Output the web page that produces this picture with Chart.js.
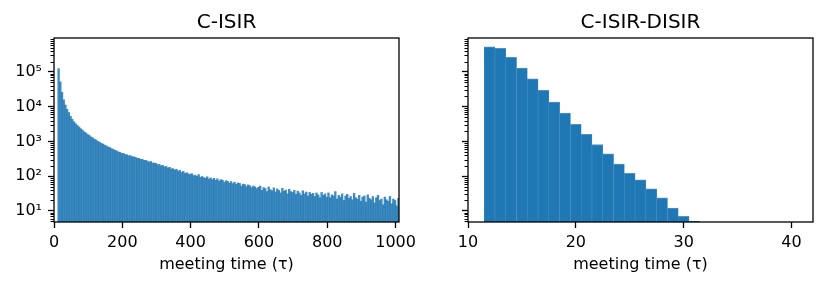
<!DOCTYPE html>
<html>
<head>
<meta charset="utf-8">
<script src="https://cdn.jsdelivr.net/npm/chart.js@4"></script>
<style>
  html, body { margin: 0; padding: 0; background: #fff; }
  #wrap { position: relative; width: 831px; height: 289px; }
  canvas { position: absolute; top: 0; }
  #left { left: 0; }
  #right { left: 420px; }
</style>
</head>
<body>
<div id="wrap">
  <canvas id="left" width="420" height="289"></canvas>
  <canvas id="right" width="411" height="289"></canvas>
</div>
<script>
const titles = ['C-ISIR', 'C-ISIR-DISIR'];
const xTitle = 'meeting time (\u03c4)';

// C-ISIR: bar heights, 5-wide bins starting at tau = 11
const cisirStart = 11;
const cisirWidth = 5;
const cisirCounts = [
  125000, 52000, 26000, 15800, 11200, 8400, 6800, 5300, 4350, 3700,
  3230, 2880, 2610, 2320, 2120, 1890, 1760, 1590, 1490, 1350,
  1270, 1160, 1100, 1000, 960, 880, 845, 785, 745, 695,
  665, 620, 595, 555, 535, 500, 485, 450,
  452, 421, 415, 389, 392, 366, 361, 350, 329, 327,
  305, 308, 284, 286, 272, 255, 266, 240, 239, 233,
  214, 218, 199, 204, 186, 190, 172, 180, 162, 165,
  151, 158, 141, 146, 130, 137, 121, 126, 117, 112,
  118, 104, 107, 99, 111, 93, 98, 91, 87, 96,
  83, 89, 80, 87, 76, 84, 72, 79, 77, 66,
  74, 71, 63, 70, 61, 67, 58, 64, 62, 52,
  59, 57, 50, 56, 53, 47, 52, 49, 44, 48,
  52, 39, 47, 44, 36, 49, 41, 38, 46, 35,
  43, 39, 33, 45, 37, 40, 31, 42, 36, 34,
  39, 30, 37, 33, 28, 38, 31, 35, 27, 34,
  30, 32, 26, 33, 29, 24, 34, 28, 31, 25,
  33, 24, 29, 27, 36, 22, 28, 25, 31, 20,
  27, 30, 23, 26, 21, 32, 24, 22, 28, 19,
  25, 27, 18, 29, 23, 21, 26, 17, 24, 28,
  20, 22, 15, 25, 21, 19, 26, 16, 22, 20,
  14, 23
];

// C-ISIR-DISIR: one bin per integer tau
const disirTau = [12, 13, 14, 15, 16, 17, 18, 19, 20, 21, 22, 23, 24, 25, 26, 27, 28, 29, 30, 31];
const disirCounts = [533000, 480000, 264000, 130000, 63000, 29800, 13700, 6600, 3100, 1600,
  815, 440, 223, 120, 79, 43, 24, 12, 7, 5];

const leftXTicks = [0, 200, 400, 600, 800, 1000];
const rightXTicks = [10, 20, 30, 40];
const yTicks = [10, 100, 1000, 10000, 100000];
const yTickLabels = ['10\u00b9', '10\u00b2', '10\u00b3', '10\u2074', '10\u2075'];

const FONT = 'DejaVu Sans';

// matplotlib-like box around the axes plus minor log ticks
const frame = {
  id: 'frame',
  afterDraw(chart) {
    const {ctx, chartArea: a} = chart;
    const y = chart.scales.y;
    ctx.save();
    ctx.strokeStyle = '#000';
    ctx.lineWidth = 1;
    for (let k = 0; k < 7; k++) {
      for (let m = 2; m < 10; m++) {
        const v = m * Math.pow(10, k);
        if (v < y.min || v > y.max) continue;
        const py = Math.round(y.getPixelForValue(v)) + 0.5;
        ctx.beginPath();
        ctx.moveTo(a.left - 3.5, py);
        ctx.lineTo(a.left, py);
        ctx.stroke();
      }
    }
    ctx.lineWidth = 1.3;
    ctx.strokeRect(a.left, a.top, a.right - a.left, a.bottom - a.top);
    ctx.restore();
  }
};

function makeChart(id, points, style, xMin, xMax, xTicks, showLabels, yWidth, padRight, title) {
  return new Chart(document.getElementById(id), {
    type: 'bar',
    data: {
      datasets: [Object.assign({
        data: points,
        barPercentage: 1,
        categoryPercentage: 1
      }, style)]
    },
    options: {
      responsive: false,
      animation: false,
      devicePixelRatio: 1,
      layout: { padding: { left: 0, right: padRight, top: 0, bottom: 0 } },
      plugins: {
        legend: { display: false },
        tooltip: { enabled: false },
        title: {
          display: true,
          text: title,
          fullSize: false,
          color: '#000',
          font: { family: FONT, size: 20, weight: 'normal' },
          padding: { top: 11, bottom: 3 }
        }
      },
      scales: {
        x: {
          type: 'linear',
          min: xMin,
          max: xMax,
          offset: false,
          afterBuildTicks: s => { s.ticks = xTicks.map(v => ({ value: v })); },
          afterFit: s => { s.height = 67; s.paddingLeft = 0; s.paddingRight = 0; },
          grid: { drawOnChartArea: false, offset: false, tickLength: 6, tickColor: '#000', tickWidth: 1.3 },
          border: { display: false },
          ticks: {
            color: '#000',
            font: { family: FONT, size: 16 },
            padding: 5,
            maxRotation: 0,
            callback: v => String(v)
          },
          title: {
            display: true,
            text: xTitle,
            color: '#000',
            font: { family: FONT, size: 16 },
            padding: { top: 0, bottom: 15 }
          }
        },
        y: {
          type: 'logarithmic',
          min: 4.8,
          max: 950000,
          afterBuildTicks: s => { s.ticks = yTicks.map(v => ({ value: v })); },
          afterFit: s => { s.width = yWidth; },
          grid: { drawOnChartArea: false, tickLength: 6, tickColor: '#000', tickWidth: 1.3 },
          border: { display: false },
          ticks: {
            color: '#000',
            font: { family: FONT, size: 16 },
            padding: 6,
            callback: (v, i) => showLabels ? yTickLabels[i] : ''
          }
        }
      }
    },
    plugins: [frame]
  });
}

const leftPoints = cisirCounts.map((c, i) => ({ x: cisirStart + cisirWidth * (i + 0.5), y: c }));
const rightPoints = disirTau.map((t, i) => ({ x: t, y: disirCounts[i] }));

makeChart('left', leftPoints,
  { backgroundColor: 'rgba(31,119,180,0.85)', borderWidth: 0 },
  0, 1010, leftXTicks, true, 54, 21, titles[0]);

makeChart('right', rightPoints,
  { backgroundColor: '#1f77b4', borderColor: '#4f93c8', borderWidth: { top: 1, left: 0.5, right: 0.5, bottom: 0 } },
  10, 42, rightXTicks, false, 48, 18, titles[1]);
</script>
</body>
</html>
